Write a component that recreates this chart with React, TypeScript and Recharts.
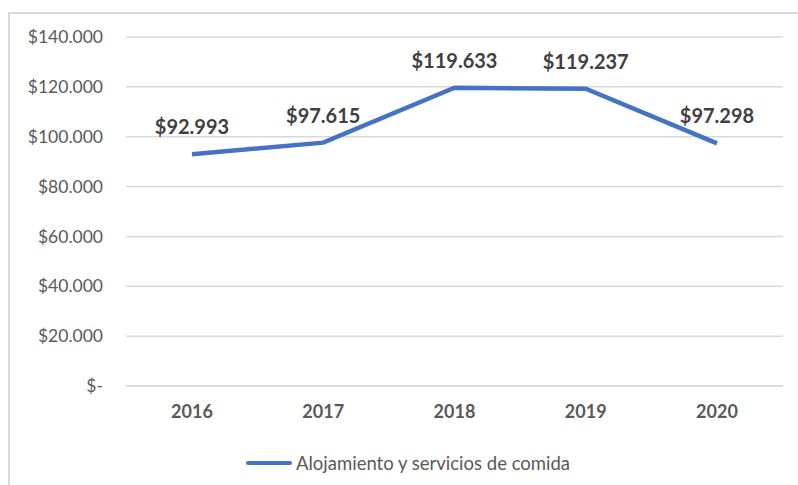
import { CartesianGrid, LabelList, Legend, Line, LineChart, XAxis, YAxis } from 'recharts';

const years = ['2016', '2017', '2018', '2019', '2020'];
const alojamiento = [92993, 97615, 119633, 119237, 97298];
const yTicks = [0, 20000, 40000, 60000, 80000, 100000, 120000, 140000];
const seriesName = 'Alojamiento y servicios de comida';

const data = years.map((year, i) => ({ year, value: alojamiento[i] }));

const FONT = 'Lato, "Liberation Sans", sans-serif';
const BLUE = '#4472C4';

function formatMoney(value: number): string {
  if (value === 0) return '$-';
  return `$${value.toLocaleString('de-DE')}`;
}

function LegendContent() {
  return (
    <div style={{ position: 'absolute', left: 246, top: 0, display: 'flex', alignItems: 'center', fontFamily: FONT }}>
      <div style={{ width: 46, height: 4, background: BLUE, borderRadius: 2 }} />
      <span style={{ fontSize: 18.5, color: '#595959', marginLeft: 4 }}>{seriesName}</span>
    </div>
  );
}

export default function App() {
  return (
    <div style={{ position: 'absolute', left: 0, top: 0, width: 798, height: 485, background: '#fff', overflow: 'hidden' }}>
      <div
        style={{
          position: 'absolute',
          left: 8,
          top: 12,
          width: 800,
          height: 500,
          border: '2px solid #d9d9d9',
          boxSizing: 'border-box',
        }}
      />
      <LineChart
        width={798}
        height={485}
        data={data}
        margin={{ top: 37, right: 15, bottom: 49, left: 0 }}
        style={{ position: 'absolute', left: 0, top: 0 }}
      >
        <CartesianGrid vertical={false} stroke="#d9d9d9" strokeWidth={1.5} />
        <XAxis
          dataKey="year"
          height={30}
          padding={{ left: 66, right: 66 }}
          axisLine={{ stroke: '#d9d9d9', strokeWidth: 1.5 }}
          tickLine={false}
          tickSize={0}
          tickMargin={19}
          tick={{ fontSize: 18, fontWeight: 700, fill: '#595959', fontFamily: FONT }}
        />
        <YAxis
          width={126}
          domain={[0, 140000]}
          ticks={yTicks}
          interval={0}
          axisLine={false}
          tickLine={false}
          tickSize={0}
          tickMargin={23}
          tickFormatter={formatMoney}
          tick={{ fontSize: 17.5, fill: '#595959', fontFamily: FONT }}
        />
        <Legend content={<LegendContent />} wrapperStyle={{ top: 452, left: 0, width: 798, height: 20 }} />
        <Line
          dataKey="value"
          name={seriesName}
          stroke={BLUE}
          strokeWidth={4.5}
          dot={false}
          isAnimationActive={false}
        >
          <LabelList
            dataKey="value"
            position="top"
            offset={20}
            formatter={(v: any) => formatMoney(Number(v))}
            style={{ fontSize: 20, fontWeight: 700, fill: '#404040', fontFamily: FONT }}
          />
        </Line>
      </LineChart>
    </div>
  );
}
